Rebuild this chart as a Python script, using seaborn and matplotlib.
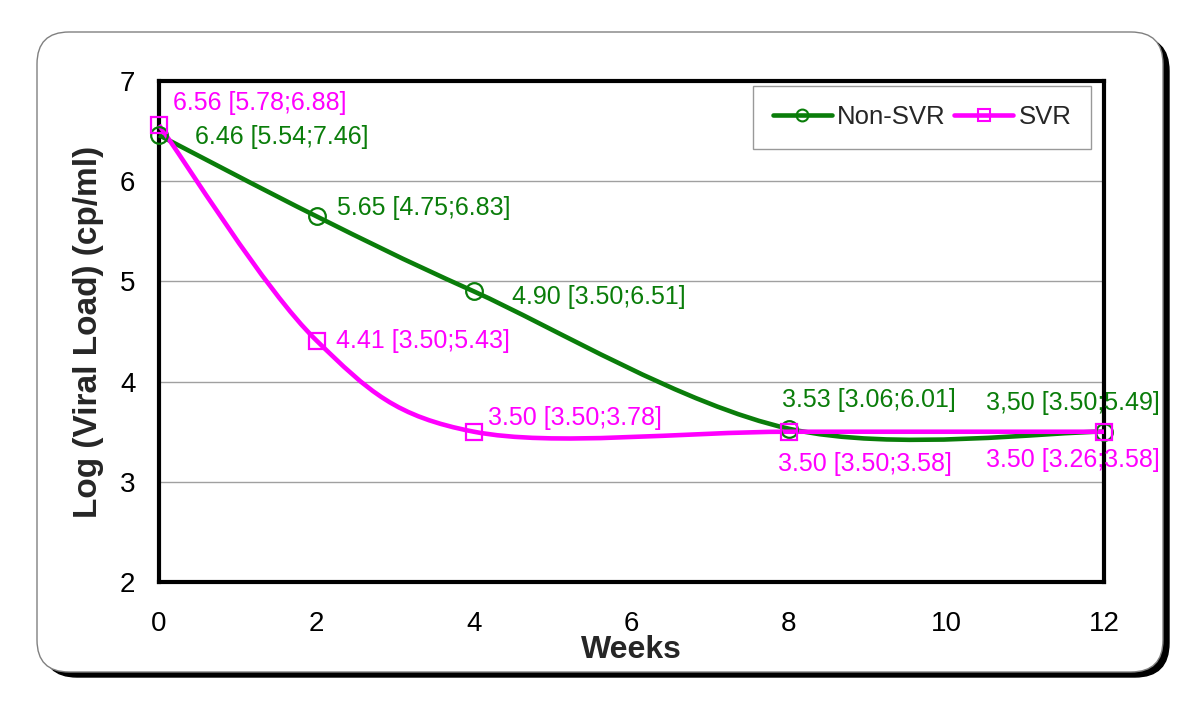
import numpy as np
import pandas as pd
import matplotlib
matplotlib.use("Agg")
import matplotlib.pyplot as plt
import seaborn as sns
from matplotlib.path import Path
from matplotlib.patches import PathPatch, FancyBboxPatch
from matplotlib.lines import Line2D

weeks = [0, 2, 4, 8, 12]
non_svr = [6.46, 5.65, 4.90, 3.53, 3.50]
svr = [6.56, 4.41, 3.50, 3.50, 3.50]

non_svr_labels = ["6.46 [5.54;7.46]", "5.65 [4.75;6.83]", "4.90 [3.50;6.51]",
                  "3.53 [3.06;6.01]", "3,50 [3.50;5.49]"]
svr_labels = ["6.56 [5.78;6.88]", "4.41 [3.50;5.43]", "3.50 [3.50;3.78]",
              "3.50 [3.50;3.58]", "3.50 [3.26;3.58]"]

# label offsets in points (dx, dy)
non_svr_offsets = [(26, -1), (15, 6), (27, -4), (-5, 21), (-85, 21)]
svr_offsets = [(10, 16), (14, 0), (10, 10), (-8, -23), (-85, -20)]

green = "#0a7d0a"
magenta = "#ff00ff"

sns.set_style("white")
plt.rcParams["font.family"] = ["Liberation Sans", "DejaVu Sans"]


def smooth_path(xs, ys):
    # excel-like smoothed line: cubic bezier segments through the points
    pts = np.column_stack([xs, ys]).astype(float)
    n = len(pts)
    verts = [pts[0]]
    codes = [Path.MOVETO]
    for i in range(n - 1):
        p0 = pts[i - 1] if i > 0 else pts[i]
        p1 = pts[i]
        p2 = pts[i + 1]
        p3 = pts[i + 2] if i + 2 < n else pts[i + 1]
        c1 = p1 + (p2 - p0) / 6.0
        c2 = p2 - (p3 - p1) / 6.0
        verts += [c1, c2, p2]
        codes += [Path.CURVE4] * 3
    return Path(verts, codes)


fig = plt.figure(figsize=(12, 7.11), dpi=100)

# rounded frame with shadow (pixel coords)
shadow = FancyBboxPatch((43, 711 - 677), 1126, 640,
                        boxstyle="round,pad=0,rounding_size=34",
                        transform=None, facecolor="black", edgecolor="black", zorder=0)
frame = FancyBboxPatch((37, 711 - 672), 1126, 640,
                       boxstyle="round,pad=0,rounding_size=32",
                       transform=None, facecolor="white", edgecolor="#808080",
                       linewidth=1, zorder=1)
fig.patches.extend([shadow, frame])

ax = fig.add_axes([0.1325, 0.1814, 0.7875, 0.7046])
ax.set_zorder(2)
ax.patch.set_alpha(0)

for vals, color in [(non_svr, green), (svr, magenta)]:
    ax.add_patch(PathPatch(smooth_path(weeks, vals), facecolor="none",
                           edgecolor=color, linewidth=3.3, clip_on=False, zorder=3))

sns.lineplot(x=weeks, y=non_svr, ax=ax, linestyle="", marker="o", markersize=12,
             markerfacecolor="none", markeredgecolor=green, markeredgewidth=1.6,
             clip_on=False, zorder=4, legend=False)
sns.lineplot(x=weeks, y=svr, ax=ax, linestyle="", marker="s", markersize=12,
             markerfacecolor="none", markeredgecolor=magenta, markeredgewidth=1.6,
             clip_on=False, zorder=4, legend=False)

for x, y, lab, off in zip(weeks, non_svr, non_svr_labels, non_svr_offsets):
    ax.annotate(lab, (x, y), xytext=off, textcoords="offset points",
                ha="left", va="center", fontsize=18, color=green, zorder=5,
                annotation_clip=False)
for x, y, lab, off in zip(weeks, svr, svr_labels, svr_offsets):
    ax.annotate(lab, (x, y), xytext=off, textcoords="offset points",
                ha="left", va="center", fontsize=18, color=magenta, zorder=5,
                annotation_clip=False)

ax.set_xlim(0, 12)
ax.set_ylim(2, 7)
ax.set_xticks(range(0, 13, 2))
ax.set_yticks(range(2, 8))
ax.yaxis.grid(True, color="#a0a0a0", linewidth=1)
ax.set_axisbelow(True)
for sp in ax.spines.values():
    sp.set_color("black")
    sp.set_linewidth(3)
ax.tick_params(axis="both", which="both", direction="out", length=7, width=1,
               color="#808080", labelsize=20, labelcolor="black")
ax.tick_params(axis="x", pad=14)
ax.tick_params(axis="y", pad=10)

ax.set_xlabel("Weeks", fontsize=23, fontweight="bold")
ax.xaxis.set_label_coords(0.5, -0.136)
ax.xaxis.label.set_va("center")
ax.set_ylabel("Log (Viral Load) (cp/ml)", fontsize=24, fontweight="bold")
ax.yaxis.set_label_coords(-0.075, 0.5)
ax.yaxis.label.set_va("center")

handles = [
    Line2D([], [], color=green, linewidth=3.3, marker="o", markersize=8.5,
           markerfacecolor="none", markeredgecolor=green, markeredgewidth=1.5),
    Line2D([], [], color=magenta, linewidth=3.3, marker="s", markersize=8.5,
           markerfacecolor="none", markeredgecolor=magenta, markeredgewidth=1.5),
]
leg = ax.legend(handles, ["Non-SVR", "SVR"], loc="upper right",
                bbox_to_anchor=(0.986, 0.99), ncol=2, fontsize=18.5,
                frameon=True, fancybox=False, edgecolor="#808080",
                handlelength=2.3, columnspacing=0.35, handletextpad=0.2,
                borderpad=0.75, borderaxespad=0)
leg.get_frame().set_linewidth(1)

fig.savefig("out.png", dpi=100)
